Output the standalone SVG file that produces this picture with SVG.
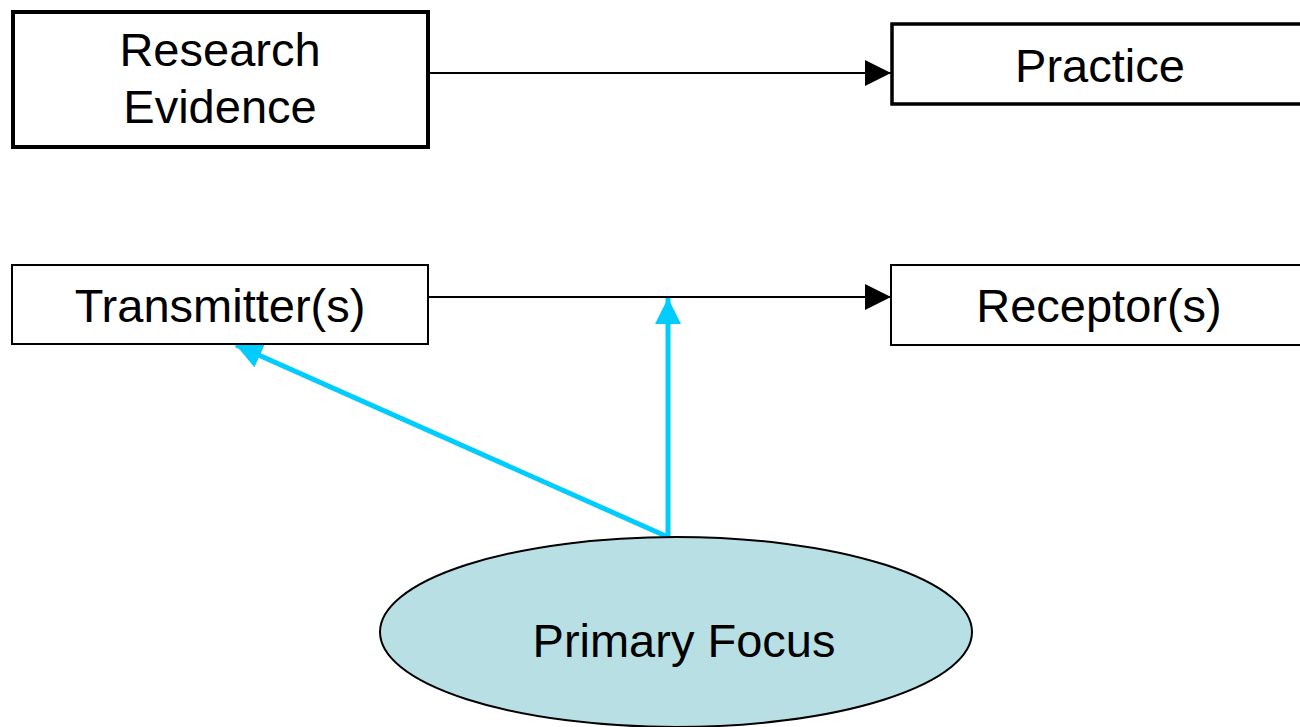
<svg xmlns="http://www.w3.org/2000/svg" width="1300" height="727" viewBox="0 0 1300 727">
<style>
.box{fill:#fff;stroke:#000}
.lbl{font-family:"Liberation Sans",Arial,sans-serif;font-size:47px;fill:#000;text-anchor:middle}
.blk{stroke:#000;stroke-width:2;fill:none}
.cy{stroke:#00CCFF;stroke-width:5;fill:none}
</style>
<defs>
<marker id="ab" markerUnits="userSpaceOnUse" markerWidth="28" markerHeight="28" refX="26" refY="13" orient="auto" viewBox="0 0 28 28">
<path d="M0,0 L26,13 L0,26 Z" fill="#000"/>
</marker>
<marker id="ac" markerUnits="userSpaceOnUse" markerWidth="28" markerHeight="28" refX="26" refY="13" orient="auto" viewBox="0 0 28 28">
<path d="M0,0 L26,13 L0,26 Z" fill="#00CCFF"/>
</marker>
</defs>
<g id="connectors">
<line class="blk" x1="428" y1="73" x2="891" y2="73" marker-end="url(#ab)"/>
<line class="blk" x1="428" y1="297" x2="891" y2="297" marker-end="url(#ab)"/>
<line class="cy" x1="668" y1="537" x2="668" y2="298" marker-end="url(#ac)"/>
<line class="cy" x1="668" y1="537" x2="236" y2="345" marker-end="url(#ac)"/>
</g>
<g id="research">
<rect class="box" x="13" y="12" width="415" height="135" stroke-width="4"/>
<text class="lbl" x="220" y="66">Research</text>
<text class="lbl" x="220" y="123">Evidence</text>
</g>
<g id="practice">
<rect class="box" x="892" y="24" width="420" height="80" stroke-width="3.5"/>
<text class="lbl" x="1100" y="82">Practice</text>
</g>
<g id="transmitter">
<rect class="box" x="12" y="265" width="416" height="79" stroke-width="2"/>
<text class="lbl" x="220" y="322">Transmitter(s)</text>
</g>
<g id="receptor">
<rect class="box" x="891" y="265" width="420" height="80" stroke-width="2"/>
<text class="lbl" x="1099" y="322">Receptor(s)</text>
</g>
<g id="focus">
<ellipse cx="676" cy="632" rx="296" ry="95" fill="#B8DFE3" stroke="#000" stroke-width="2"/>
<text class="lbl" x="684" y="657">Primary Focus</text>
</g>
</svg>
